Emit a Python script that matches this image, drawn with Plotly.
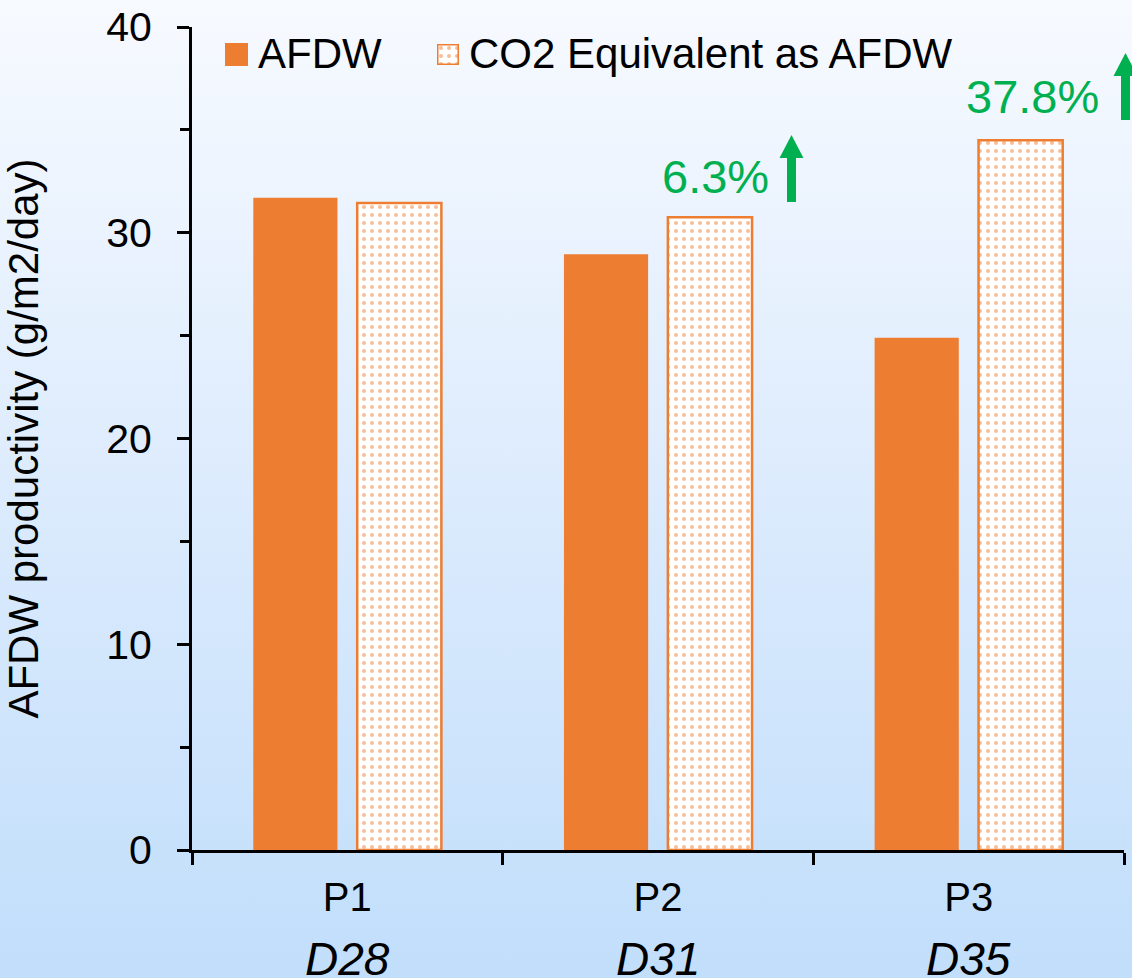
import base64
import plotly.graph_objects as go

# ---- data ----
categories = ["P1", "P2", "P3"]
period_days = ["D28", "D31", "D35"]
afdw = [31.7, 28.95, 24.9]
co2_equiv = [31.45, 30.75, 34.5]
increase_labels = ["", "6.3%", "37.8%"]
y_ticks = [0, 10, 20, 30, 40]

# ---- geometry helpers ----
W, H = 1132, 978
L, R, T, B = 192, 8, 27, 128
PW, PH = W - L - R, H - T - B


def px_x(p):
    return (p - L) / PW


def px_y(p):
    return (H - B - p) / PH


ORANGE = "#ED7D31"
GREEN = "#00B050"
FONT = "Liberation Sans, Arial, sans-serif"
DOTS = dict(shape=".", fgcolor=ORANGE, bgcolor="white", size=8, solidity=0.2)

fig = go.Figure()

fig.add_trace(go.Bar(
    x=categories, y=afdw, name="AFDW",
    marker=dict(color=ORANGE, line=dict(width=0)),
    showlegend=False,
))
fig.add_trace(go.Bar(
    x=categories, y=co2_equiv, name="CO2 Equivalent as AFDW",
    marker=dict(color="white", line=dict(color=ORANGE, width=2.5), pattern=DOTS),
    showlegend=False,
))

# legend keys drawn as tiny bars in inset axes
fig.add_trace(go.Bar(x=[0], y=[1], width=[1], xaxis="x2", yaxis="y2",
                     marker=dict(color=ORANGE, line=dict(width=0)),
                     showlegend=False, hoverinfo="skip"))
fig.add_trace(go.Bar(x=[0], y=[1], width=[1], xaxis="x3", yaxis="y3",
                     marker=dict(color="white", line=dict(color=ORANGE, width=3),
                                 pattern=DOTS),
                     showlegend=False, hoverinfo="skip"))

inset = dict(visible=False, fixedrange=True)
fig.update_layout(
    xaxis2=dict(domain=[px_x(225), px_x(248)], range=[-0.5, 0.5], anchor="y2", **inset),
    yaxis2=dict(domain=[px_y(66), px_y(43)], range=[0, 1], anchor="x2", **inset),
    xaxis3=dict(domain=[px_x(437), px_x(459)], range=[-0.5, 0.5], anchor="y3", **inset),
    yaxis3=dict(domain=[px_y(65), px_y(44)], range=[0, 1], anchor="x3", **inset),
)

# gradient background
svg = ('<svg xmlns="http://www.w3.org/2000/svg" width="1132" height="978" '
       'preserveAspectRatio="none"><defs><linearGradient id="g" x1="0" y1="0" x2="0" y2="1">'
       '<stop offset="0" stop-color="#F7FAFF"/><stop offset="0.5" stop-color="#DCEBFD"/>'
       '<stop offset="1" stop-color="#C1DEFB"/></linearGradient></defs>'
       '<rect width="1132" height="978" fill="url(#g)"/></svg>')
src = "data:image/svg+xml;base64," + base64.b64encode(svg.encode()).decode()
fig.add_layout_image(dict(source=src, xref="paper", yref="paper",
                          x=px_x(0), y=px_y(0), sizex=W / PW, sizey=H / PH,
                          xanchor="left", yanchor="top", sizing="stretch",
                          layer="below"))

annotations = []
# legend texts
annotations.append(dict(text="AFDW", x=px_x(256), y=px_y(54), xref="paper", yref="paper",
                        xanchor="left", yanchor="middle", showarrow=False,
                        font=dict(size=42, color="black", family=FONT)))
annotations.append(dict(text="CO2 Equivalent as AFDW", x=px_x(467), y=px_y(54),
                        xref="paper", yref="paper", xanchor="left", yanchor="middle",
                        showarrow=False, font=dict(size=42, color="black", family=FONT)))
# second-line category labels
for c, d in zip(categories, period_days):
    annotations.append(dict(text="<i>" + d + "</i>", x=c, xref="x", y=px_y(959),
                            yref="paper", yanchor="middle", showarrow=False,
                            font=dict(size=46, color="black", family=FONT)))
# increase labels
lbl_pos = {"6.3%": (715.5, 176), "37.8%": (1032, 97)}
for t in increase_labels:
    if t:
        xp, yp = lbl_pos[t]
        annotations.append(dict(text=t, x=px_x(xp), y=px_y(yp), xref="paper", yref="paper",
                                xanchor="center", yanchor="middle", showarrow=False,
                                font=dict(size=47, color=GREEN, family=FONT)))

arrow_path = "M-4.5,0 L4.5,0 L4.5,44 L12,44 L0,67 L-12,44 L-4.5,44 Z"
shapes = []
for (ax_, ay_) in [(791.5, 202), (1125.5, 120)]:
    shapes.append(dict(type="path", path=arrow_path, xref="paper", yref="paper",
                       xsizemode="pixel", ysizemode="pixel",
                       xanchor=px_x(ax_), yanchor=px_y(ay_),
                       fillcolor=GREEN, line=dict(width=0), layer="above"))

fig.update_layout(
    width=W, height=H,
    margin=dict(l=L, r=R, t=T, b=B, autoexpand=False),
    paper_bgcolor="#DCEBFD",
    plot_bgcolor="rgba(0,0,0,0)",
    barmode="group", bargap=0.331, bargroupgap=0.19,
    font=dict(family=FONT, color="black", size=40),
    annotations=annotations, shapes=shapes,
    xaxis=dict(type="category", categoryorder="array", categoryarray=categories,
               tickson="boundaries", ticks="outside", ticklen=12, tickwidth=3,
               tickcolor="black", showline=True, linewidth=3, linecolor="black",
               showgrid=False, zeroline=False, tickfont=dict(size=40),
               ticklabelstandoff=10,
               range=[-0.5, 2.5], fixedrange=True),
    yaxis=dict(range=[0, 40], tickvals=y_ticks, ticks="outside", ticklen=12,
               tickwidth=3, tickcolor="black", showline=True, linewidth=3,
               linecolor="black", showgrid=False, zeroline=False,
               tickfont=dict(size=41), ticklabelstandoff=17,
               minor=dict(ticks="outside", ticklen=9, tickwidth=3, dtick=5,
                          tickcolor="black", showgrid=False),
               title=dict(text="AFDW productivity (g/m2/day)", font=dict(size=42),
                          standoff=55),
               fixedrange=True),
)

fig.write_html("out.html")
